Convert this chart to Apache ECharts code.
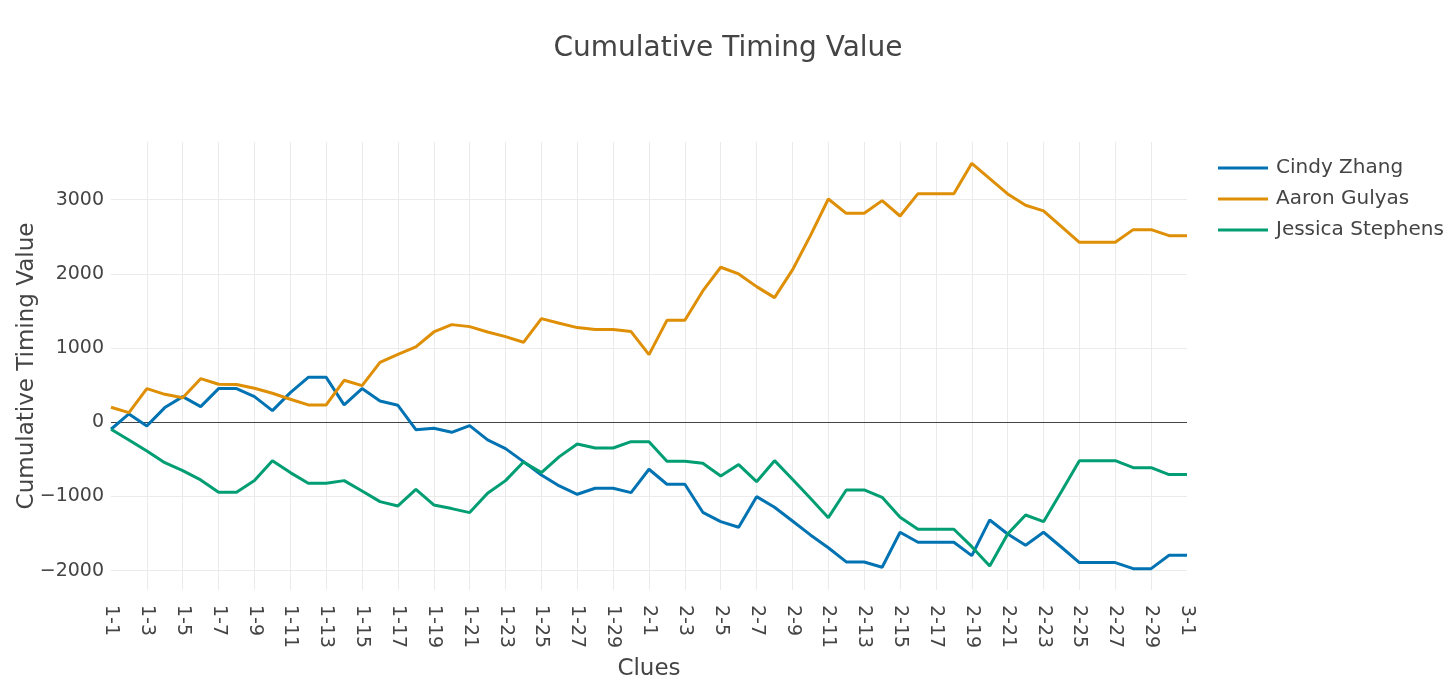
<!DOCTYPE html>
<html>
<head>
<meta charset="utf-8">
<script src="https://cdn.jsdelivr.net/npm/echarts@6/dist/echarts.min.js"></script>
<style>
html,body{margin:0;padding:0;background:#fff;}
#chart{width:1456px;height:696px;}
</style>
</head>
<body>
<div id="chart"></div>
<script>
const categories = [
  '1-1','1-2','1-3','1-4','1-5','1-6','1-7','1-8','1-9','1-10',
  '1-11','1-12','1-13','1-14','1-15','1-16','1-17','1-18','1-19','1-20',
  '1-21','1-22','1-23','1-24','1-25','1-26','1-27','1-28','1-29','1-30',
  '2-1','2-2','2-3','2-4','2-5','2-6','2-7','2-8','2-9','2-10',
  '2-11','2-12','2-13','2-14','2-15','2-16','2-17','2-18','2-19','2-20',
  '2-21','2-22','2-23','2-24','2-25','2-26','2-27','2-28','2-29','2-30',
  '3-1'
];

const cindyZhang = [
  -94, 112, -49, 198, 346, 211, 454, 454, 346, 157,
  400, 606, 606, 234, 454, 287, 229, -99, -81, -135,
  -45, -238, -355, -530, -710, -858, -970, -889, -889, -948,
  -633, -835, -835, -1213, -1339, -1415, -1002, -1145, -1330, -1518,
  -1690, -1882, -1882, -1954, -1482, -1617, -1617, -1617, -1797, -1316,
  -1505, -1657, -1482, -1684, -1891, -1891, -1891, -1972, -1972, -1792,
  -1792
];

const aaronGulyas = [
  202, 130, 454, 377, 330, 588, 512, 508, 458, 391,
  310, 234, 234, 566, 494, 808, 916, 1015, 1217, 1316,
  1289, 1217, 1154, 1078, 1397, 1334, 1276, 1249, 1249, 1222,
  912, 1374, 1374, 1770, 2089, 1999, 1828, 1680, 2053, 2515,
  3009, 2816, 2816, 2987, 2780, 3081, 3081, 3081, 3490, 3284,
  3077, 2924, 2848, 2637, 2426, 2426, 2426, 2596, 2596, 2515,
  2515
];

const jessicaStephens = [
  -94, -238, -386, -544, -651, -777, -943, -943, -786, -517,
  -678, -822, -822, -786, -925, -1069, -1127, -903, -1114, -1163,
  -1217, -957, -786, -535, -678, -463, -292, -346, -346, -261,
  -261, -526, -526, -553, -723, -570, -800, -517, -768, -1024,
  -1285, -912, -912, -1011, -1280, -1442, -1442, -1442, -1676, -1936,
  -1505, -1249, -1339, -934, -517, -517, -517, -611, -611, -705,
  -705
];

const seriesNames = ['Cindy Zhang', 'Aaron Gulyas', 'Jessica Stephens'];
const seriesColors = ['#0173b2', '#de8f05', '#029e73'];
const yRange = [-2260, 3777];
const zeroLine = 0;

const FONT = '"DejaVu Sans", Verdana, sans-serif';
const TEXT = '#444';

const chart = echarts.init(document.getElementById('chart'), null, {renderer: 'canvas'});

const seriesData = [cindyZhang, aaronGulyas, jessicaStephens];
const series = seriesData.map((d, k) => ({
  name: seriesNames[k],
  type: 'line',
  data: d,
  showSymbol: false,
  symbol: 'none',
  smooth: false,
  z: 3 + k,
  lineStyle: {width: 3, color: seriesColors[k]},
  itemStyle: {color: seriesColors[k]}
}));
series[0].markLine = {
  silent: true,
  symbol: ['none', 'none'],
  label: {show: false},
  z: 1,
  lineStyle: {color: '#444', width: 1, type: 'solid'},
  data: [{yAxis: zeroLine}]
};

chart.setOption({
  animation: false,
  backgroundColor: '#fff',
  textStyle: {fontFamily: FONT, color: TEXT},
  title: {
    text: 'Cumulative Timing Value',
    left: 'center',
    top: 30,
    textStyle: {fontFamily: FONT, fontSize: 28, fontWeight: 'normal', color: TEXT}
  },
  legend: {
    orient: 'vertical',
    left: 1213,
    top: 153,
    icon: 'rect',
    itemWidth: 50,
    itemHeight: 3,
    itemGap: 11,
    textStyle: {fontFamily: FONT, fontSize: 20, color: TEXT, padding: [0, 0, 0, 3]},
    data: seriesNames
  },
  grid: {left: 111, right: 269, top: 142, bottom: 106, containLabel: false},
  xAxis: {
    type: 'category',
    data: categories,
    boundaryGap: false,
    name: 'Clues',
    nameLocation: 'middle',
    nameGap: 68,
    nameMoveOverlap: false,
    nameTextStyle: {fontFamily: FONT, fontSize: 23, color: TEXT},
    axisLine: {show: false},
    axisTick: {show: false},
    axisLabel: {
      interval: 1,
      rotate: -90,
      margin: 15,
      fontFamily: FONT,
      fontSize: 19,
      color: TEXT
    },
    splitLine: {
      show: true,
      interval: function (idx) { return idx % 2 === 0 && idx > 0 && idx < categories.length - 1; },
      lineStyle: {color: '#ebebeb', width: 1}
    }
  },
  yAxis: {
    type: 'value',
    min: yRange[0],
    max: yRange[1],
    splitNumber: 6,
    minInterval: 1000,
    maxInterval: 1000,
    name: 'Cumulative Timing Value',
    nameLocation: 'middle',
    nameGap: 72,
    nameMoveOverlap: false,
    nameTextStyle: {fontFamily: FONT, fontSize: 23, color: TEXT},
    axisLine: {show: false},
    axisTick: {show: false},
    axisLabel: {
      showMinLabel: false,
      showMaxLabel: false,
      margin: 7,
      fontFamily: FONT,
      fontSize: 19,
      color: TEXT,
      formatter: function (v) { return String(v).replace('-', '\u2212'); }
    },
    splitLine: {
      show: true,
      showMinLine: false,
      showMaxLine: false,
      lineStyle: {color: '#ebebeb', width: 1}
    }
  },
  series: series
});
</script>
</body>
</html>
